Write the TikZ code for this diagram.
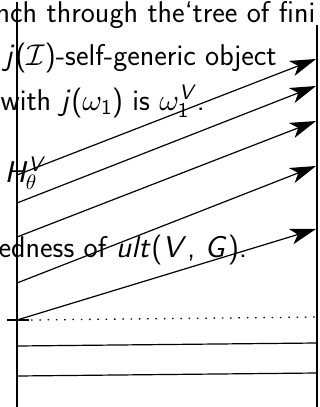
\documentclass[tikz,border=0pt]{standalone}
\usetikzlibrary{arrows.meta}
\DeclareFontShape{OML}{cmm}{m}{it}{<->cmmi10}{}
\DeclareFontShape{OMS}{cmsy}{m}{n}{<->cmsy10}{}
\DeclareFontFamily{OT1}{mysl}{}
\DeclareFontShape{OT1}{mysl}{m}{sl}{<->cmssi10}{}
\DeclareFontFamily{OT1}{mysf}{}
\DeclareFontShape{OT1}{mysf}{m}{n}{<->cmss10}{}
\DeclareMathAlphabet{\mathsl}{OT1}{mysl}{m}{sl}
\DeclareMathAlphabet{\mathsfx}{OT1}{mysf}{m}{n}
\begin{document}
\begin{tikzpicture}[x=1pt,y=-1pt,line width=1.2pt,
  arr/.style={-{Stealth[length=26pt,width=16pt,inset=7pt]}},
  txt/.style={anchor=base west,inner sep=0pt,font=\sffamily\fontsize{30}{36}\selectfont}]
\useasboundingbox (0,0) rectangle (320,407);
\clip (0,0) rectangle (320,407);
% frame lines
\coordinate (lt) at (17,2);
\coordinate (lb) at (17,407);
\coordinate (rt) at (317,25);
\coordinate (rb) at (317,407);
\draw (lt) -- (lb);
\draw (rt) -- (rb);
% texts
\node[txt] (t1) at (-5,22) {nch through the‘tree of fini};
\node[txt] (t2) at (4,65) {$\mathsl{j}$($\mathcal{I}$)-self-generic object};
\node[txt] (t3) at (0,110) {with $\mathsl{j}$($\omega_{\mathsfx{1}}$) is $\omega_{\mathsfx{1}}^{\mathsl{V}}$.};
\node[txt] (t4) at (4,182) {$\mathsl{H}_{\theta}^{\mathsl{V}}$};
\node[txt] (t5) at (-2,257) {edness of $\mathsl{ult}$($\mathsl{V}$, $\mathsl{G}$).};
% arrow end points
\coordinate (a1) at (17,175); \coordinate (b1) at (316,59);
\coordinate (a2) at (17,203); \coordinate (b2) at (316,86);
\coordinate (a3) at (17,237); \coordinate (b3) at (316,121);
\coordinate (a4) at (17,283); \coordinate (b4) at (316,166);
\coordinate (a5) at (17,320); \coordinate (b5) at (316,229);
\draw[arr] (a1) -- (b1);
\draw[arr] (a2) -- (b2);
\draw[arr] (a3) -- (b3);
\draw[arr] (a4) -- (b4);
\draw[arr] (a5) -- (b5);
% dotted and horizontal lines
\coordinate (d1) at (31,320); \coordinate (d2) at (320,317);
\draw[line width=1.3pt,dash pattern=on 1.5pt off 6.8pt] (d1) -- (d2);
\coordinate (k1) at (7,320); \coordinate (k2) at (29,320);
\draw[line width=1.6pt] (k1) -- (k2);
\coordinate (h1) at (17,346); \coordinate (h2) at (317,343);
\coordinate (h3) at (17,376); \coordinate (h4) at (317,373);
\draw (h1) -- (h2);
\draw (h3) -- (h4);
\end{tikzpicture}
\end{document}
